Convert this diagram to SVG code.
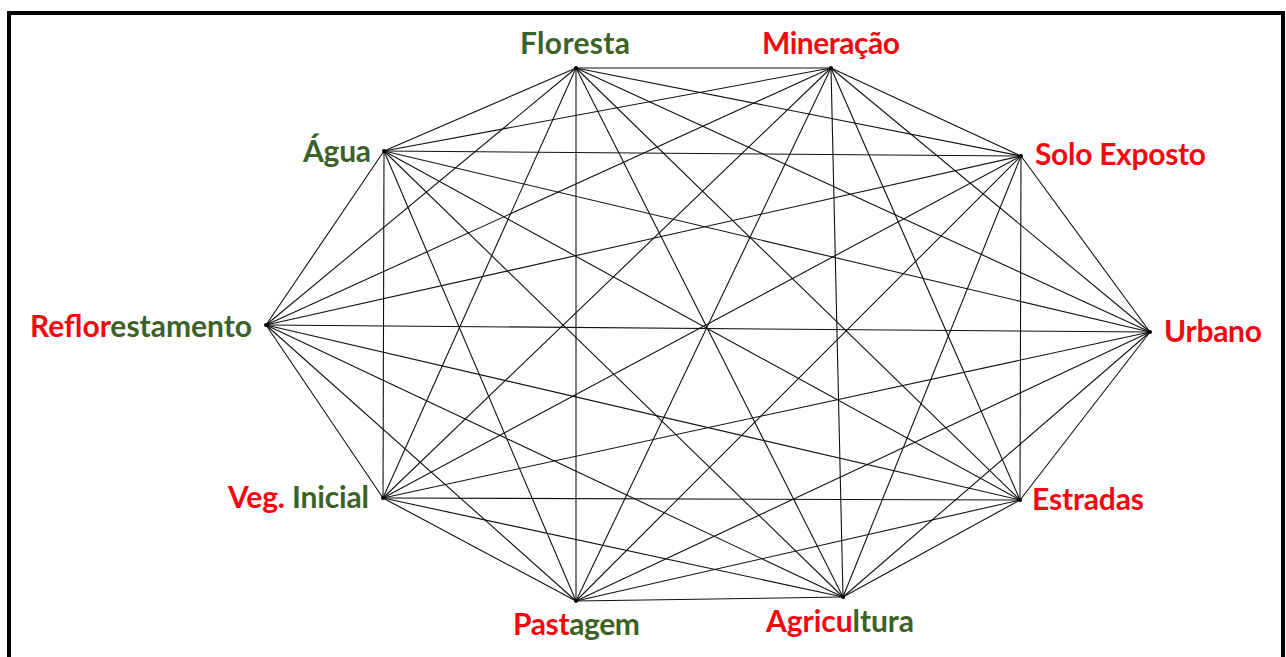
<svg xmlns="http://www.w3.org/2000/svg" width="1286" height="657" viewBox="0 0 1286 657">
<style>
.lbl{font-family:"Lato","Open Sans","Liberation Sans",sans-serif;font-weight:bold;font-size:30px}
.r{fill:#f5070f}
.g{fill:#3c6227}
.e line{stroke:#111;stroke-width:1.1}
.dot{fill:#000}
</style>
<rect x="0" y="0" width="1286" height="657" fill="#fff"/>
<rect x="9" y="13" width="1274" height="700" fill="none" stroke="#000" stroke-width="4"/>
<g id="connectors" class="e">
<line x1="576" y1="68" x2="831" y2="68"/>
<line x1="576" y1="68" x2="384" y2="151"/>
<line x1="576" y1="68" x2="1021" y2="156"/>
<line x1="576" y1="68" x2="266" y2="325"/>
<line x1="576" y1="68" x2="1150" y2="332"/>
<line x1="576" y1="68" x2="383" y2="498"/>
<line x1="576" y1="68" x2="1020" y2="500"/>
<line x1="576" y1="68" x2="576" y2="601"/>
<line x1="576" y1="68" x2="843" y2="597"/>
<line x1="831" y1="68" x2="384" y2="151"/>
<line x1="831" y1="68" x2="1021" y2="156"/>
<line x1="831" y1="68" x2="266" y2="325"/>
<line x1="831" y1="68" x2="1150" y2="332"/>
<line x1="831" y1="68" x2="383" y2="498"/>
<line x1="831" y1="68" x2="1020" y2="500"/>
<line x1="831" y1="68" x2="576" y2="601"/>
<line x1="831" y1="68" x2="843" y2="597"/>
<line x1="384" y1="151" x2="1021" y2="156"/>
<line x1="384" y1="151" x2="266" y2="325"/>
<line x1="384" y1="151" x2="1150" y2="332"/>
<line x1="384" y1="151" x2="383" y2="498"/>
<line x1="384" y1="151" x2="1020" y2="500"/>
<line x1="384" y1="151" x2="576" y2="601"/>
<line x1="384" y1="151" x2="843" y2="597"/>
<line x1="1021" y1="156" x2="266" y2="325"/>
<line x1="1021" y1="156" x2="1150" y2="332"/>
<line x1="1021" y1="156" x2="383" y2="498"/>
<line x1="1021" y1="156" x2="1020" y2="500"/>
<line x1="1021" y1="156" x2="576" y2="601"/>
<line x1="1021" y1="156" x2="843" y2="597"/>
<line x1="266" y1="325" x2="1150" y2="332"/>
<line x1="266" y1="325" x2="383" y2="498"/>
<line x1="266" y1="325" x2="1020" y2="500"/>
<line x1="266" y1="325" x2="576" y2="601"/>
<line x1="266" y1="325" x2="843" y2="597"/>
<line x1="1150" y1="332" x2="383" y2="498"/>
<line x1="1150" y1="332" x2="1020" y2="500"/>
<line x1="1150" y1="332" x2="576" y2="601"/>
<line x1="1150" y1="332" x2="843" y2="597"/>
<line x1="383" y1="498" x2="1020" y2="500"/>
<line x1="383" y1="498" x2="576" y2="601"/>
<line x1="383" y1="498" x2="843" y2="597"/>
<line x1="1020" y1="500" x2="576" y2="601"/>
<line x1="1020" y1="500" x2="843" y2="597"/>
<line x1="576" y1="601" x2="843" y2="597"/>
</g>
<g id="floresta"><circle class="dot" cx="576" cy="68" r="2"/><text class="lbl g" x="520" y="54" textLength="110">Floresta</text></g>
<g id="mineracao"><circle class="dot" cx="831" cy="68" r="2"/><text class="lbl r" x="762" y="54" textLength="138">Mineração</text></g>
<g id="agua"><circle class="dot" cx="384" cy="151" r="2"/><text class="lbl g" x="303" y="162" textLength="68">Água</text></g>
<g id="solo-exposto"><circle class="dot" cx="1021" cy="156" r="2"/><text class="lbl r" x="1035" y="165" textLength="171">Solo Exposto</text></g>
<g id="reflorestamento"><circle class="dot" cx="266" cy="325" r="2"/><text class="lbl" x="30" y="337" textLength="222"><tspan class="r">Reflor</tspan><tspan class="g">estamento</tspan></text></g>
<g id="urbano"><circle class="dot" cx="1150" cy="332" r="2"/><text class="lbl r" x="1164" y="342" textLength="98">Urbano</text></g>
<g id="veg-inicial"><circle class="dot" cx="383" cy="498" r="2"/><text class="lbl" x="228" y="508" textLength="141"><tspan class="r">Veg.</tspan><tspan class="g"> Inicial</tspan></text></g>
<g id="estradas"><circle class="dot" cx="1020" cy="500" r="2"/><text class="lbl r" x="1032" y="510" textLength="112">Estradas</text></g>
<g id="pastagem"><circle class="dot" cx="576" cy="601" r="2"/><text class="lbl" x="513" y="635" textLength="127"><tspan class="r">Past</tspan><tspan class="g">agem</tspan></text></g>
<g id="agricultura"><circle class="dot" cx="843" cy="597" r="2"/><text class="lbl" x="766" y="632" textLength="148"><tspan class="r">Agricu</tspan><tspan class="g">ltura</tspan></text></g>
</svg>
